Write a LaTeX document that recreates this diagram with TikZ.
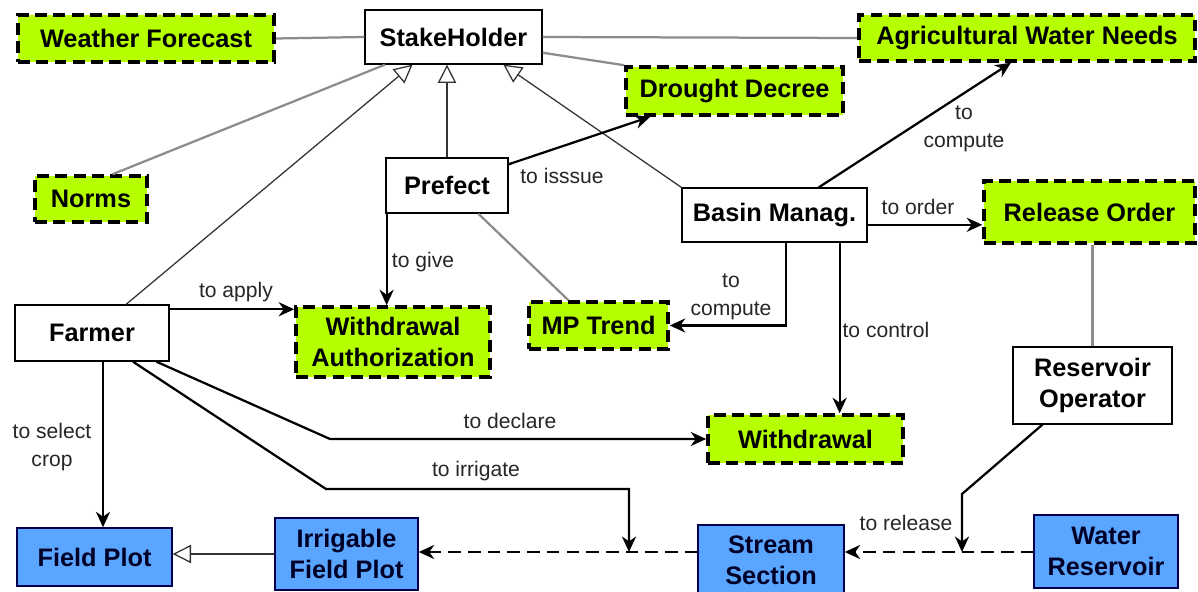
\documentclass[tikz,border=0pt]{standalone}
\usepackage{fontspec}
\setmainfont{Liberation Sans}
\usepackage{tikz}
\usetikzlibrary{arrows.meta}
\definecolor{ontogreen}{HTML}{B5FF00}
\definecolor{ontoblue}{HTML}{5AA5FF}
\definecolor{linkgray}{HTML}{8C8C8C}

\begin{document}
\begin{tikzpicture}[x=0.025cm, y=-0.025cm,
    agent/.style={draw=black, line width=0.9pt, fill=white, inner sep=0pt,
      align=center, font=\fontsize{18}{22}\selectfont\bfseries},
    artifact/.style={agent, line width=2.5pt, dash pattern=on 8.5pt off 4.5pt,
      fill=ontogreen},
    physical/.style={agent, draw=black!70!blue, line width=1pt, fill=ontoblue,
      text=black!85!blue},
    rel/.style={-{Stealth[length=11pt,width=10pt,inset=3.5pt]}, line width=1.6pt},
    flow/.style={rel, dash pattern=on 9pt off 5pt},
    assoc/.style={linkgray, line width=1.6pt},
    isa/.style={-{Triangle[open,length=13pt,width=13pt]}, line width=0.9pt, black!80},
    lbl/.style={font=\fontsize{15}{20}\selectfont, text=black!85, align=center, inner sep=1pt}]
  \useasboundingbox (0,0) rectangle (1198,592);

  % stakeholders
  \node[agent, minimum width=4.425cm, minimum height=1.35cm] (stake) at (453.5,37) {StakeHolder};
  \node[agent, minimum width=3.05cm, minimum height=1.375cm] (prefect) at (447,185.5) {Prefect};
  \node[agent, minimum width=4.625cm, minimum height=1.35cm] (basin) at (774.5,215) {Basin Manag.};
  \node[agent, minimum width=3.85cm, minimum height=1.4cm] (farmer) at (92,333) {Farmer};
  \node[agent, minimum width=3.975cm, minimum height=1.925cm] (resop) at (1092.5,385.5) {Reservoir\\Operator};

  % documents
  \node[artifact, minimum width=6.4cm, minimum height=1.175cm] (weather) at (146,38.5) {Weather Forecast};
  \node[artifact, minimum width=8.4cm, minimum height=1.15cm] (agri) at (1027,38) {Agricultural Water Needs};
  \node[artifact, minimum width=5.425cm, minimum height=1.2cm] (drought) at (734.5,91) {Drought Decree};
  \node[artifact, minimum width=2.8cm, minimum height=1.15cm] (norms) at (91,199) {Norms};
  \node[artifact, minimum width=5.275cm, minimum height=1.55cm] (release) at (1089.5,212) {Release Order};
  \node[artifact, minimum width=4.85cm, minimum height=1.75cm] (withauth) at (393,342) {Withdrawal\\Authorization};
  \node[artifact, minimum width=3.475cm, minimum height=1.175cm] (mptrend) at (598.5,325.5) {MP Trend};
  \node[artifact, minimum width=4.875cm, minimum height=1.2cm] (withdrawal) at (805.5,439) {Withdrawal};

  % physical entities
  \node[physical, minimum width=3.875cm, minimum height=1.45cm] (fieldplot) at (94.5,557) {Field Plot};
  \node[physical, minimum width=3.575cm, minimum height=1.8cm] (irrigable) at (346.5,554) {Irrigable\\Field Plot};
  \node[physical, minimum width=3.65cm, minimum height=1.75cm] (stream) at (771,560) {Stream\\Section};
  \node[physical, minimum width=3.6cm, minimum height=1.825cm] (waterres) at (1106,551.5) {Water\\Reservoir};

  \coordinate (irr) at (629,552);
  \coordinate (rel) at (962,552);

  % associations
  \draw[assoc] (weather.east) -- (stake.west);
  \draw[assoc] (stake.east) -- (agri.west);
  \draw[assoc] (stake.-10) -- (drought.north west);
  \draw[assoc] (norms.49) -- (stake.-158);
  \draw[assoc] (prefect.-42) -- (mptrend.140);
  \draw[assoc] (release.south -| resop.north) -- (resop.north);

  % generalization
  \draw[isa] (farmer.40) -- (stake.-146);
  \draw[isa] (prefect.north) -- (prefect.north |- stake.south);
  \draw[isa] (basin.north west) -- (stake.-29);
  \draw[isa] (irrigable.west) -- (irrigable.west -| fieldplot.east);

  % actions
  \draw[rel] (prefect.19) -- (drought.-163);
  \draw[rel] (prefect.-155) -- (prefect.-155 |- withauth.north);
  \draw[rel] (basin.32) -- (agri.-123);
  \draw[rel] (basin.-6) -- (basin.-6 -| release.west);
  \draw[rel] (basin.-67) |- (mptrend.east);
  \draw[rel] (basin.-23) -- (basin.-23 |- withdrawal.north);
  \draw[rel] (farmer.17) -- (farmer.17 -| withauth.west);
  \draw[rel] (farmer.-69) -- (farmer.-69 |- fieldplot.north);
  \draw[rel] (farmer.-24) -- (330,439) -- (withdrawal.west);
  \draw[rel] (farmer.-35) -- (326,489) -- (629,489) -- (irr);
  \draw[rel] (resop.-142) -- (962,494) -- (rel);

  % water flow
  \draw[flow] (waterres.west |- rel) -- (stream.east |- rel);
  \draw[flow] (stream.west |- irr) -- (irrigable.east |- irr);

  % labels
  \node[lbl] (lissue) at (562,176) {to isssue};
  \node[lbl] (lgive) at (423,262) {to give};
  \node[lbl] (lapply) at (236,292) {to apply};
  \node[lbl] (lcompa) at (964,129) {to\\compute};
  \node[lbl] (lorder) at (918,207) {to order};
  \node[lbl] (lcompb) at (731,297) {to\\compute};
  \node[lbl] (lcontrol) at (886,330) {to control};
  \node[lbl] (lselect) at (52,447) {to select\\crop};
  \node[lbl] (ldeclare) at (510,421) {to declare};
  \node[lbl] (lirrigate) at (476,471) {to irrigate};
  \node[lbl] (lrelease) at (906,523) {to release};
\end{tikzpicture}
\end{document}
